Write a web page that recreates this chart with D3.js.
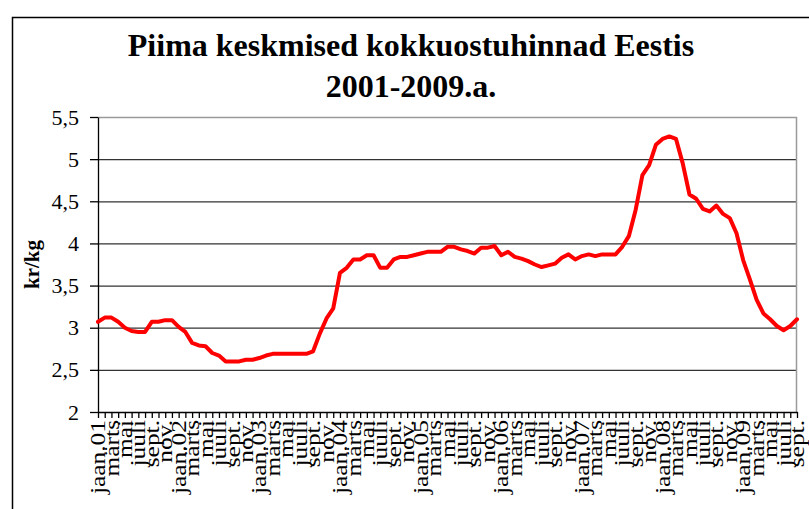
<!DOCTYPE html>
<html>
<head>
<meta charset="utf-8">
<script src="https://cdn.jsdelivr.net/npm/d3@7"></script>
<style>
	body { margin: 0; background: #fff; }
	svg { display: block; }
	text { font-family: "Liberation Serif", "Times New Roman", serif; fill: #000; }
</style>
</head>
<body>
<div id="chart"></div>
<script>
'use strict'

// aastad ja kuud (x-telg)
const years = ["01", "02", "03", "04", "05", "06", "07", "08", "09"]
const monthNames = ["jaan.", "veebr.", "märts", "apr.", "mai", "juuni", "juuli", "aug.", "sept.", "okt.", "nov.", "dets."]

// piima keskmine kokkuostuhind, kr/kg, jaan.2001 - sept.2009
const prices2001 = [3.07, 3.12, 3.12, 3.07, 3.00, 2.96, 2.95, 2.95, 3.07, 3.07, 3.09, 3.09]
const prices2002 = [3.01, 2.95, 2.82, 2.79, 2.78, 2.70, 2.67, 2.60, 2.60, 2.60, 2.62, 2.62]
const prices2003 = [2.64, 2.67, 2.69, 2.69, 2.69, 2.69, 2.69, 2.69, 2.72, 2.93, 3.11, 3.23]
const prices2004 = [3.65, 3.71, 3.81, 3.81, 3.86, 3.86, 3.71, 3.71, 3.81, 3.84, 3.84, 3.86]
const prices2005 = [3.88, 3.90, 3.90, 3.90, 3.96, 3.96, 3.93, 3.91, 3.88, 3.95, 3.95, 3.97]
const prices2006 = [3.86, 3.90, 3.84, 3.82, 3.79, 3.75, 3.72, 3.74, 3.76, 3.83, 3.87, 3.81]
const prices2007 = [3.85, 3.87, 3.85, 3.87, 3.87, 3.87, 3.96, 4.09, 4.40, 4.81, 4.93, 5.17]
const prices2008 = [5.24, 5.27, 5.24, 4.95, 4.58, 4.53, 4.41, 4.38, 4.45, 4.35, 4.30, 4.12]
const prices2009 = [3.80, 3.57, 3.33, 3.17, 3.10, 3.02, 2.97, 3.02, 3.10]

const yTicks = [2, 2.5, 3, 3.5, 4, 4.5, 5, 5.5]

const titleLines = ["Piima keskmised kokkuostuhinnad Eestis", "2001-2009.a."]
const yLabel = "kr/kg"

const serif = '"Liberation Serif", "Times New Roman", serif'


function monthLabel(i){
	let m = i % 12
	if (m == 0){
		return monthNames[0] + years[Math.floor(i / 12)]
	}
	return monthNames[m]
}


function renderChart(prices, width, height, padding){

	let svg = d3.select("#chart")
		.append("svg")
		.attr("width", width)
		.attr("height", height)

	// välimine raam
	svg.append("rect")
		.attr("x", 12.5)
		.attr("y", 17.5)
		.attr("width", width + 50)
		.attr("height", height + 50)
		.attr("fill", "none")
		.attr("stroke", "#000")
		.attr("stroke-width", 1.5)

	let plotW = width - padding.left - padding.right
	let plotH = height - padding.top - padding.bottom

	let xScale = d3.scaleLinear().domain([0, prices.length - 1]).range([padding.left, padding.left + plotW])
	let yScale = d3.scaleLinear().domain([2, 5.5]).range([padding.top + plotH, padding.top])

	// ruudustik
	let grid = svg.append("g")
		.attr("transform", "translate(" + padding.left + ",0)")
		.call(d3.axisLeft(yScale).tickValues(yTicks.slice(1, -1)).tickSize(-plotW).tickFormat(""))
	grid.select(".domain").remove()
	grid.selectAll("line").attr("stroke", "#333").attr("stroke-width", 1.2)

	// joonise ala raam (hall)
	svg.append("path")
		.attr("d", "M" + padding.left + "," + (padding.top + 0.5) + "H" + (padding.left + plotW - 0.5) + "V" + (padding.top + plotH))
		.attr("fill", "none")
		.attr("stroke", "#9a9a9a")
		.attr("stroke-width", 1.5)

	// y-telg
	let yAxis = svg.append("g")
		.attr("transform", "translate(" + padding.left + ",0)")
		.call(d3.axisLeft(yScale).tickValues(yTicks).tickSize(8).tickPadding(11).tickSizeOuter(0)
			.tickFormat(function(d){ return String(d).replace(".", ",") }))
	yAxis.attr("font-family", serif).attr("font-size", null)
	yAxis.selectAll("text").style("font-family", serif).style("font-size", "22px")
	yAxis.selectAll("line, path").attr("stroke", "#000").attr("stroke-width", 1.3)

	// x-telg
	let xAxis = svg.append("g")
		.attr("transform", "translate(0," + (padding.top + plotH) + ")")
		.call(d3.axisBottom(xScale).tickValues(d3.range(prices.length)).tickSize(6).tickSizeOuter(0)
			.tickFormat(function(i){ return i % 2 == 0 ? monthLabel(i) : "" }))
	xAxis.attr("font-family", serif).attr("font-size", null)
	xAxis.selectAll("line, path").attr("stroke", "#000").attr("stroke-width", 1.3)
	xAxis.selectAll("text")
		.style("font-family", serif)
		.style("font-size", "20px")
		.attr("text-anchor", "end")
		.attr("x", -8)
		.attr("y", 0)
		.attr("dy", "0.33em")
		.attr("transform", "rotate(-90)")
		.each(function(){
			// sildid on originaalis teksti suunas veidi venitatud
			let len = this.getComputedTextLength()
			if (len > 0){
				d3.select(this).attr("textLength", len * 1.27).attr("lengthAdjust", "spacingAndGlyphs")
			}
		})

	// hinnajoon
	let line = d3.line()
		.x(function(d, i){ return xScale(i) })
		.y(function(d){ return yScale(d) })

	svg.append("path")
		.datum(prices)
		.attr("d", line)
		.attr("fill", "none")
		.attr("stroke", "#ff0000")
		.attr("stroke-width", 4)
		.attr("stroke-linejoin", "round")
		.attr("stroke-linecap", "round")

	// pealkiri
	svg.selectAll(".title").data(titleLines).enter().append("text")
		.attr("class", "title")
		.attr("x", 411)
		.attr("y", function(d, i){ return 56 + i * 41 })
		.attr("text-anchor", "middle")
		.style("font-size", "32px")
		.style("font-weight", "bold")
		.text(function(d){ return d })

	// y-telje nimi
	svg.append("text")
		.attr("transform", "translate(32," + (padding.top + plotH / 2) + ") rotate(-90)")
		.attr("text-anchor", "middle")
		.attr("dy", "0.35em")
		.style("font-size", "21px")
		.style("font-weight", "bold")
		.text(yLabel)
}


function wrapper(){
	let prices = [].concat(prices2001, prices2002, prices2003, prices2004, prices2005,
		prices2006, prices2007, prices2008, prices2009)
	let padding = {left: 98, right: 12, top: 117, bottom: 97}
	renderChart(prices, 809, 509, padding)
}

wrapper();
</script>
</body>
</html>
